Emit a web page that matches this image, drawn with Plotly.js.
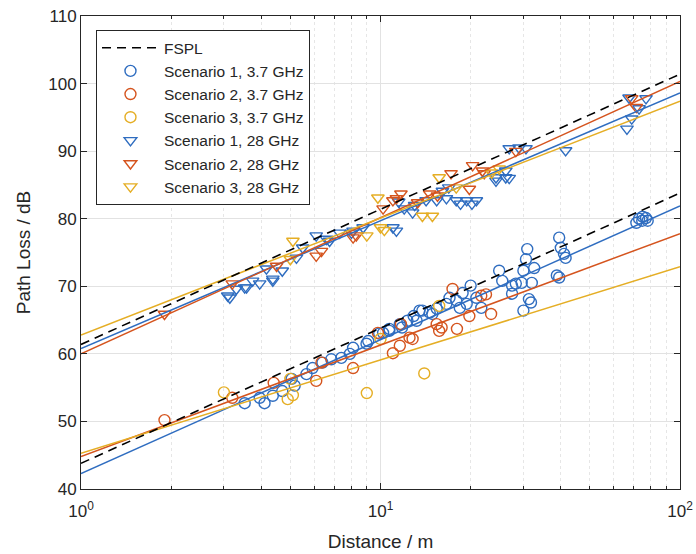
<!DOCTYPE html>
<html>
<head>
<meta charset="utf-8">
<script src="https://cdn.plot.ly/plotly-3.0.1.min.js"></script>
<style>html,body{margin:0;padding:0;background:#fff;}#chart{width:696px;height:554px;}</style>
</head>
<body>
<div id="chart"></div>
<script>
// ---- data (distance in m, path loss in dB) ----
const s1_37_d  = [3.52,4.1,3.95,4.37,4.7,5.17,5.05,5.66,5.93,6.4,6.85,7.4,7.9,8.1,8.98,9.1,9.9,10.2,10.7,10.7,11.6,11.8,12.3,12.9,13.2,13.5,13.8,14.6,14.9,15.4,16.6,17,17.9,18.4,18.8,19.4,20,20.9,21.7,24.9,25.5,27.5,27.5,28.3,29.6,30,30.9,30.6,32.6,32,31.3,31.8,30,39.5,40,41,41.5,38.8,39.5,73,74.8,77,78,71.5,75];
const s1_37_pl = [52.7,52.7,53.5,53.8,54.5,55.3,56.3,57,57.9,58.7,59.2,59.4,60,60.9,61.5,61.9,63,63.1,63.4,63.7,64.4,63.9,64.9,65.6,64.9,66.4,66.4,66.1,65.9,66.7,67.4,68.3,67.9,66.8,69,67.4,70.1,68.3,66.8,72.3,70.8,70.1,68.9,70.4,70.5,72.3,75.5,74,72.7,70.5,68.1,67.6,66.4,77.2,75.7,74.8,74.2,71.6,71.3,80,79.7,80.1,79.7,79.4,80.3];

const s2_37_d  = [1.9,3.2,4.4,6.1,6.35,8.1,9.8,11,11.6,11.7,12.5,12.8,15.4,15.7,16,18,17.4,19.8,21.7,23.4,22.5];
const s2_37_pl = [50.2,53.5,55.7,56,58.7,57.9,63.1,60.1,61.2,64.4,62.4,62.2,64.4,63.4,63.9,63.7,69.6,65.6,68.6,65.9,68.8];

const s3_37_d  = [3.0,4.9,5.1,5.0,9.0,10.0,14.0,15.7];
const s3_37_pl = [54.3,53.3,53.9,56.3,54.2,62.2,57.1,67.1];

const s1_28_d  = [3.09,3.14,3.3,3.52,3.57,3.74,3.95,4.16,4.37,4.37,4.7,5.24,5.5,6.1,6.6,6.76,7.3,8,8.1,8.75,11,11.3,11.5,12,12.8,13,14.2,15.4,16.1,16.6,16.9,17.9,18.5,19.4,20.2,20.9,24.3,24.3,26.2,26.2,26.9,26.9,29,30.6,41.5,66.5,69,73,77,67.6];
const s1_28_pl = [68.6,68.3,69.6,69.8,69.8,70.8,70.4,72.6,71.1,70.8,72.3,74.2,75.7,77.5,77,76.7,77.9,77.9,78.2,78.7,78.7,78.2,82.5,81.5,80.9,82,82.7,82.7,84.1,83,84.6,82.7,82.2,82.7,82.2,82.7,85.6,86.1,86.1,87.1,86,90.4,90.5,90.4,90.1,93.3,94.8,96.3,97.8,97.9];

const s2_28_d  = [1.9,3.2,4.5,6.1,6.35,8.1,8.3,10.2,11,11.3,11.7,13.3,14.6,15.5,17.2,19.8,20.3,21.9,22.2,28.3,69,71.5];
const s2_28_pl = [65.9,70.4,73,74.5,75.2,77.2,77.5,81.5,82.7,83,83.7,82.4,83.7,83.4,86.7,84.4,87.9,87.1,86.7,90,97.8,96.5];

const s3_28_d  = [5.0,5.1,9.0,9.8,10.0,10.3,13.8,14.9,15.7,17.9,24.9,23.5];
const s3_28_pl = [74.0,76.7,77.5,83.1,78.7,78.3,80.4,80.4,86.1,84.6,87.4,86.8];

// fitted path-loss lines: PL = A + B*log10(d)
const fitNames = ['S1 3.7','S2 3.7','S3 3.7','S1 28','S2 28','S3 28'];
const fitA = [42.3, 44.8, 45.3, 60.8, 60.0, 62.8];
const fitB = [19.8, 16.5, 13.8, 18.9, 20.15, 17.3];

// free-space path loss at 1 m for each frequency (dB), 20 dB/decade
const fsplA = [43.8, 61.4];
const fsplB = 20;

const legendNames = ['Scenario 1, 3.7 GHz','Scenario 2, 3.7 GHz','Scenario 3, 3.7 GHz','Scenario 1, 28 GHz','Scenario 2, 28 GHz','Scenario 3, 28 GHz'];
const lineD = [1, 100];

const colors = ['#2F6DC0','#D5541E','#E5AE25','#2F6DC0','#D5541E','#E5AE25'];
const symbols = ['circle-open','circle-open','circle-open','triangle-down-open','triangle-down-open','triangle-down-open'];
const sets = [[s1_37_d,s1_37_pl],[s2_37_d,s2_37_pl],[s3_37_d,s3_37_pl],[s1_28_d,s1_28_pl],[s2_28_d,s2_28_pl],[s3_28_d,s3_28_pl]];

const traces = [];
sets.forEach((s, i) => {
  traces.push({
    x: s[0], y: s[1], mode: 'markers', type: 'scatter', name: legendNames[i],
    legendrank: 10 + i,
    marker: {symbol: symbols[i], size: 11, color: colors[i], line: {width: 1.4, color: colors[i]}}
  });
});
fitA.forEach((a, i) => {
  traces.push({
    x: lineD, y: lineD.map(d => a + fitB[i]*Math.log10(d)),
    mode: 'lines', type: 'scatter', name: fitNames[i], showlegend: false,
    line: {color: colors[i], width: 1.5}
  });
});
fsplA.forEach((a, i) => {
  traces.push({
    x: lineD, y: lineD.map(d => a + fsplB*Math.log10(d)),
    mode: 'lines', type: 'scatter', name: 'FSPL',
    showlegend: i === 0, legendgroup: 'fspl', legendrank: 1,
    line: {color: '#000', width: 1.6, dash: '9px,6px'}
  });
});

const minorVals = [];
[1,10].forEach(m => { for (let k = 2; k <= 9; k++) minorVals.push(k*m); });

const font = {family: 'Liberation Sans, Arial, Helvetica, sans-serif', color: '#262626'};
const layout = {
  width: 696, height: 554,
  margin: {l: 81, r: 16, t: 16, b: 65},
  paper_bgcolor: '#fff', plot_bgcolor: '#fff',
  font: Object.assign({size: 17}, font),
  showlegend: true,
  legend: {
    x: 0.025, y: 0.97, xanchor: 'left', yanchor: 'top',
    bgcolor: '#fff', bordercolor: '#262626', borderwidth: 1,
    font: Object.assign({size: 15.5}, font),
    itemwidth: 57, tracegroupgap: 0, traceorder: 'normal'
  },
  xaxis: {
    type: 'log', range: [0, 2],
    tickvals: [1, 10, 100], ticktext: ['10<sup>0</sup>', '10<sup>1</sup>', '10<sup>2</sup>'],
    ticks: 'inside', ticklen: 6, tickcolor: '#262626', ticklabelstandoff: 7,
    showline: true, linecolor: '#262626', linewidth: 1, mirror: 'ticks',
    showgrid: true, gridcolor: '#e2e2e2', zeroline: false,
    minor: {tickvals: minorVals, ticks: 'inside', ticklen: 3, tickcolor: '#262626', showgrid: true, gridcolor: '#e6e6e6', griddash: 'dot'},
    tickfont: Object.assign({size: 17}, font),
    title: {text: 'Distance / m', font: Object.assign({size: 19}, font), standoff: 14}
  },
  yaxis: {
    range: [40, 110], dtick: 10, tick0: 40,
    ticks: 'inside', ticklen: 6, tickcolor: '#262626',
    showline: true, linecolor: '#262626', linewidth: 1, mirror: 'ticks',
    showgrid: true, gridcolor: '#e2e2e2', zeroline: false,
    tickfont: Object.assign({size: 17}, font),
    title: {text: 'Path Loss / dB', font: Object.assign({size: 19}, font), standoff: 12}
  }
};
Plotly.newPlot('chart', traces, layout, {displayModeBar: false, staticPlot: true});
</script>
</body>
</html>
